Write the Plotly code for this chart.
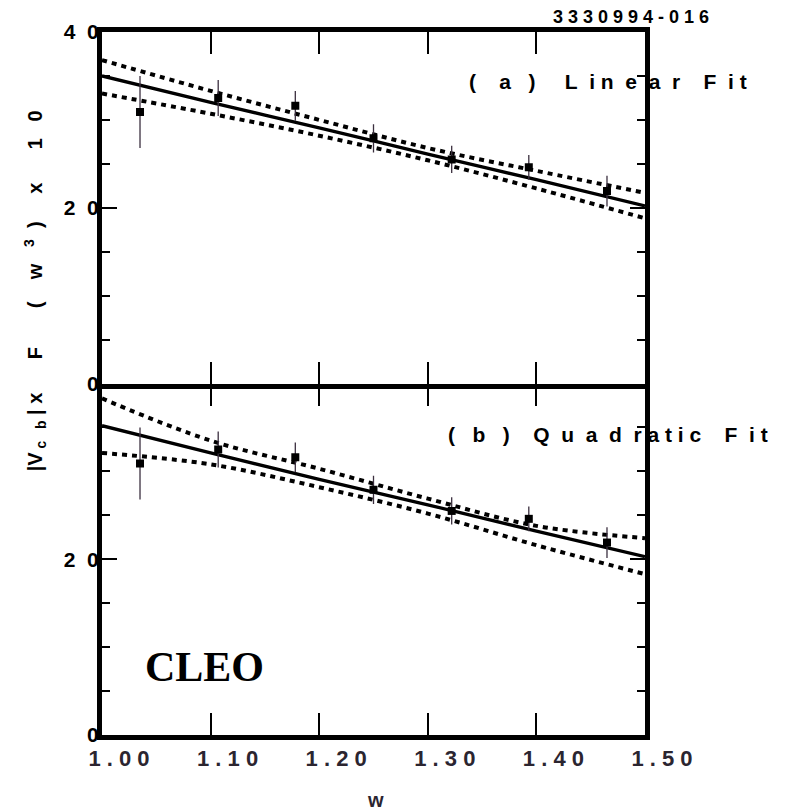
import plotly.graph_objects as go

# ---- data ----
w_pts = [1.035, 1.107, 1.178, 1.250, 1.322, 1.393, 1.465]
f_pts = [30.9, 32.5, 31.6, 27.9, 25.5, 24.6, 21.9]
f_err = [4.1, 2.05, 1.7, 1.6, 1.55, 1.4, 1.75]

w_fit = [1.0, 1.1, 1.2, 1.3, 1.4, 1.5]
lin_fit = [35.0, 32.0, 29.1, 26.1, 23.2, 20.2]
lin_hi = [36.8, 33.3, 30.0, 26.8, 24.2, 21.7]
lin_lo = [33.0, 30.7, 28.2, 25.4, 22.2, 18.8]
quad_fit = [35.2, 32.1, 29.1, 26.2, 23.2, 20.3]
quad_hi = [38.3, 33.5, 30.3, 26.9, 23.8, 22.4]
quad_lo = [32.1, 30.8, 28.2, 25.2, 21.6, 18.3]

NB = "\u00a0"


def sp(n):
    return NB * n


x_tickvals = [1.0, 1.1, 1.2, 1.3, 1.4, 1.5]
x_ticktext = [NB.join(list(s)) for s in ["1.00", "1.10", "1.20", "1.30", "1.40", "1.50"]]
y_tickvals = [0, 20, 40]
y_ticktext_top = ["0", "2" + sp(2) + "0", "4" + sp(2) + "0"]
y_ticktext_bot = ["0", "2" + sp(2) + "0", ""]
y_minor = [5, 10, 15, 25, 30, 35]

label_a = ("(" + sp(4) + "a" + sp(3) + ")" + sp(5) + "L" + sp(2) + "i" + sp(1) + "n" + sp(2) + "e"
           + sp(2) + "a" + sp(2) + "r" + sp(4) + "F" + sp(2) + "i" + sp(1) + "t")
label_b = ("(" + sp(3) + "b" + sp(3) + ")" + sp(4) + "Q" + sp(2) + "u" + sp(2) + "a" + sp(2) + "d"
           + sp(2) + "r" + sp(1) + "a" + sp(1) + "t" + sp(1) + "i" + sp(1) + "c" + sp(4) + "F"
           + sp(2) + "i" + sp(1) + "t")
code_lbl = NB.join(list("3330994-016"))
y_title = ("|V<sub>" + NB + "c" + sp(3) + "b</sub>" + NB + "|" + NB + "x" + sp(6) + "F" + sp(7) + "("
           + sp(4) + "w" + sp(3) + "<sup>3</sup>" + sp(2) + ")" + sp(5) + "x" + sp(6) + "1" + sp(3) + "0")

FONT = "Liberation Sans, Arial, sans-serif"

fig = go.Figure()

panels = [("x", "y", lin_fit, lin_hi, lin_lo), ("x2", "y2", quad_fit, quad_hi, quad_lo)]
for xa, ya, fit, hi, lo in panels:
    for band in (hi, lo):
        fig.add_trace(go.Scatter(x=w_fit, y=band, mode="lines", xaxis=xa, yaxis=ya,
                                 line=dict(color="black", width=4, dash="5px,5px", shape="spline"),
                                 showlegend=False, hoverinfo="skip"))
    fig.add_trace(go.Scatter(x=w_fit, y=fit, mode="lines", xaxis=xa, yaxis=ya,
                             line=dict(color="black", width=3.3, shape="spline"),
                             showlegend=False, hoverinfo="skip"))
    fig.add_trace(go.Scatter(x=w_pts, y=f_pts, mode="markers", xaxis=xa, yaxis=ya,
                             marker=dict(symbol="square", size=8, color="black"),
                             error_y=dict(type="data", array=f_err, width=0, thickness=1.3,
                                          color="#3b2f3f"),
                             showlegend=False))

# invisible trace so the extra top-tick axis of the lower panel exists
fig.add_trace(go.Scatter(x=w_fit, y=quad_fit, mode="lines", xaxis="x3", yaxis="y2",
                         line=dict(width=0), opacity=0, showlegend=False, hoverinfo="skip"))

tick_x = dict(range=[1.0, 1.5], ticks="inside", ticklen=22, tickwidth=1.5, tickcolor="black",
              tickmode="array", tickvals=x_tickvals, showgrid=False, zeroline=False)
common_y = dict(range=[0, 40], showline=True, linewidth=5, linecolor="black", mirror="ticks",
                ticks="inside", ticklen=15, tickwidth=1.5, tickcolor="black",
                tickmode="array", tickvals=y_tickvals, showgrid=False, zeroline=False,
                ticklabelstandoff=-6,
                tickfont=dict(family=FONT, size=21, color="black", weight="bold"),
                minor=dict(tickmode="array", tickvals=y_minor, ticks="inside", ticklen=8,
                           tickwidth=1.5, tickcolor="black", showgrid=False))

# page has an 8px body margin: compensate so the plot area lands where the reference has it
fig.update_layout(
    width=786, height=802,
    margin=dict(l=94, r=149, t=22, b=75),
    plot_bgcolor="white", paper_bgcolor="white",
    xaxis=dict(**tick_x, anchor="y", showline=True, linewidth=5, linecolor="black",
               mirror="ticks", showticklabels=False),
    xaxis2=dict(**tick_x, anchor="y2", matches="x", showline=True, linewidth=5, linecolor="black",
                mirror=False, ticktext=x_ticktext, ticklabelshift=17,
                tickfont=dict(family=FONT, size=22, color="#2b2530", weight="bold")),
    xaxis3=dict(**tick_x, anchor="y2", overlaying="x2", side="top", matches="x",
                showline=False, showticklabels=False),
    yaxis=dict(**common_y, domain=[0.5, 1.0], ticktext=y_ticktext_top),
    yaxis2=dict(**common_y, domain=[0.0, 0.5], ticktext=y_ticktext_bot),
)

ann = [
    dict(text=code_lbl, x=0.975, y=1.0213, font=dict(family=FONT, size=18, color="black", weight="bold"),
         xanchor="center", yanchor="middle"),
    dict(text=label_a, x=0.672, y=0.929, font=dict(family=FONT, size=21, color="black", weight="bold"),
         xanchor="left", yanchor="middle"),
    dict(text=label_b, x=0.633, y=0.428, font=dict(family=FONT, size=21, color="black", weight="bold"),
         xanchor="left", yanchor="middle"),
    dict(text="<b>CLEO</b>", x=0.0755, y=0.0965,
         font=dict(family="Liberation Serif, Times New Roman, serif", size=42, color="black"),
         xanchor="left", yanchor="middle"),
    dict(text="w", x=0.5046, y=-0.092, font=dict(family=FONT, size=20, color="#2b2530", weight="bold"),
         xanchor="center", yanchor="middle"),
    dict(text=y_title, x=-0.1234, y=0.6326, textangle=-90,
         font=dict(family=FONT, size=20, color="black", weight="bold"),
         xanchor="center", yanchor="middle"),
]
for a in ann:
    a.update(xref="paper", yref="paper", showarrow=False)
fig.update_layout(annotations=ann)

fig.write_html("out.html")
